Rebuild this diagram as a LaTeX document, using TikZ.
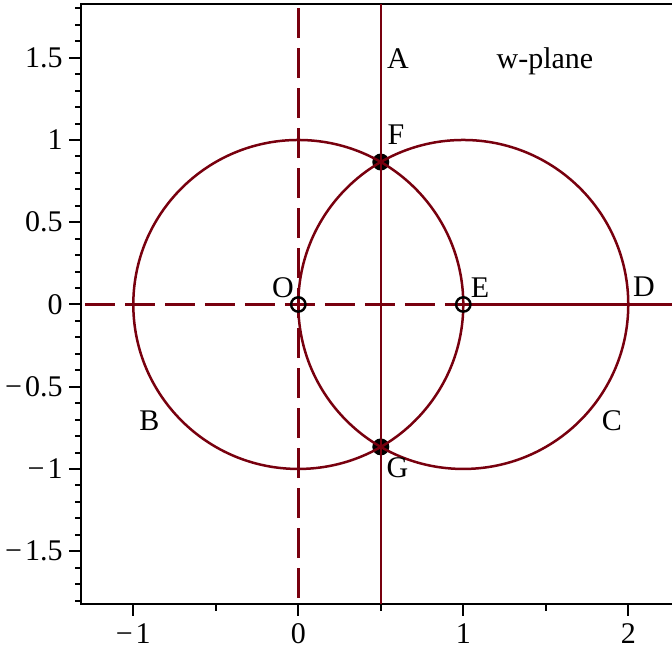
\documentclass[tikz,border=0pt]{standalone}
\usepackage{fontspec}
\setmainfont{Liberation Serif}
\definecolor{mred}{RGB}{120,0,14}
\newcommand{\mneg}{−\kern1.5pt}
\begin{document}
\begin{tikzpicture}[x=82.5pt,y=82.25pt,font=\fontsize{15}{18}\selectfont,
  curve/.style={draw=mred,line width=1.25pt},
  dashcurve/.style={curve,dash pattern=on 15pt off 5pt,dash phase=18pt},
  frame/.style={draw=black,line width=1.1pt},
  tick/.style={draw=black,line width=1pt},
  lab/.style={anchor=base,inner sep=0pt},
  ylab/.style={anchor=east,inner sep=0pt},
  xlab/.style={anchor=north,inner sep=0pt},
  ring/.style={circle,draw=black,line width=1.2pt,minimum size=7.2pt,inner sep=0pt},
  disk/.style={circle,fill=black,minimum size=8.5pt,inner sep=0pt}]
\useasboundingbox (-1.808,-2.088) rectangle (2.265,1.851);
\def\xl{-1.317}\def\xr{2.265}\def\yt{1.825}\def\yb{-1.821}
% frame
\coordinate (tr) at (\xr,\yt);
\coordinate (tl) at (\xl,\yt);
\coordinate (bl) at (\xl,\yb);
\coordinate (br) at (\xr,\yb);
\draw[frame] (tr) -- (tl) -- (bl) -- (br);
% y ticks
\foreach \v in {-18,...,18}{\draw[tick] (\xl,\v/10) -- ++(-3pt,0);}
\foreach \v in {-15,-10,-5,0,5,10,15}{\draw[tick] (\xl,\v/10) -- ++(-6pt,0);}
\foreach \v/\t/\n in {1.5/1.5/a,1/1/b,0.5/0.5/c,0/0/d,-0.5/\mneg0.5/e,-1/\mneg1/f,-1.5/\mneg1.5/g}{
  \node[ylab] (yl\n) at (-1.426,\v) {\t};}
% x ticks
\foreach \v in {-0.5,0.5,1.5}{\draw[tick] (\v,\yb) -- ++(0,-3.5pt);}
\foreach \v/\t/\n in {-1/\mneg1/a,0/0/b,1/1/c,2/2/d}{
  \draw[tick] (\v,\yb) -- ++(0,-6pt);
  \node[xlab] (xl\n) at (\v,-1.936) {\t};}
% points
\coordinate (pO) at (0,0);
\coordinate (pE) at (1,0);
\coordinate (pF) at (0.5,0.866);
\coordinate (pG) at (0.5,-0.866);
\coordinate (vt0) at (0,\yt);
\coordinate (vb0) at (0,\yb);
\coordinate (vt5) at (0.5,\yt);
\coordinate (vb5) at (0.5,\yb);
\coordinate (hl) at (\xl,0);
\coordinate (hr) at (\xr,0);
\node[disk] (mF) at (pF) {};
\node[disk] (mG) at (pG) {};
% curves
\draw[curve] (pO) circle[radius=1];
\draw[curve] (pE) circle[radius=1];
\draw[curve] (vt5) -- (vb5);
\draw[dashcurve] (vt0) -- (vb0);
\draw[dashcurve] (hl) -- (pE);
\draw[curve] (pE) -- (hr);
\node[ring] (mO) at (pO) {};
\node[ring] (mE) at (pE) {};
% labels
\node[lab] (lA) at (0.604,1.432) {A};
\node[lab] (lW) at (1.495,1.432) {w-plane};
\node[lab] (lB) at (-0.902,-0.769) {B};
\node[lab] (lC) at (1.901,-0.769) {C};
\node[lab] (lD) at (2.095,0.046) {D};
\node[lab] (lE) at (1.101,0.040) {E};
\node[lab] (lO) at (-0.093,0.040) {O};
\node[lab] (lF) at (0.592,0.970) {F};
\node[lab] (lG) at (0.601,-1.049) {G};
\end{tikzpicture}
\end{document}
